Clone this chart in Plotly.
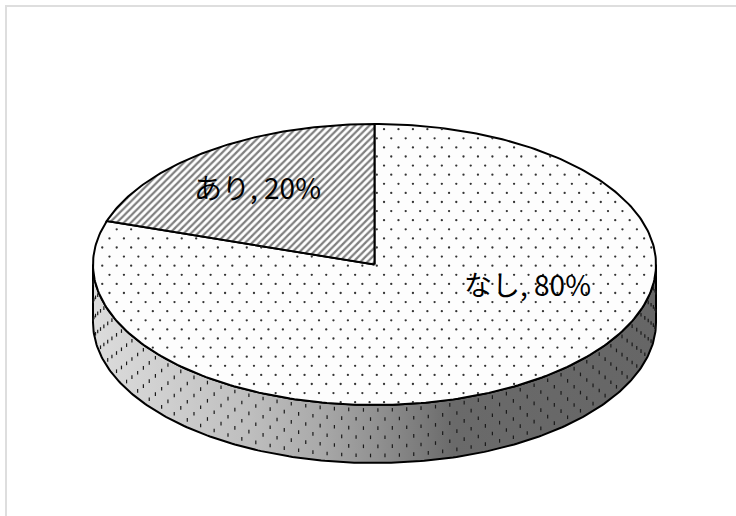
import numpy as np
import plotly.graph_objects as go

# Data
categories = ["なし", "あり"]
shares = [80, 20]
label_texts = ["なし, 80%", "あり, 20%"]

# Geometry of the drawn disc (pixel space)
CX, CY, RX, RY, DEPTH = 374.5, 264.5, 281.5, 140.5, 58
DOT_DX, DOT_DY = 14.45, 9.1
split = 2 * np.pi * shares[0] / sum(shares)


def rim(theta):
    theta = np.asarray(theta)
    return CX + RX * np.sin(theta), CY - RY * np.cos(theta)


fig = go.Figure()

# Chart frame (only top and left edges are visible in the crop)
fig.add_trace(go.Scatter(x=[6, 6, 740], y=[520, 6, 6], mode="lines",
                         line=dict(color="#dedede", width=2), hoverinfo="skip"))

# Side wall
t_side = np.linspace(np.pi / 2, 3 * np.pi / 2, 240)
xs, ys = rim(t_side)
fig.add_trace(go.Scatter(
    x=np.r_[xs, xs[::-1], xs[0]], y=np.r_[ys, ys[::-1] + DEPTH, ys[0]],
    mode="lines", fill="toself",
    fillgradient=dict(type="horizontal", colorscale=[
        [0, "#666666"], [0.36, "#6a6a6a"], [0.42, "#7c7c7c"], [0.50, "#929292"],
        [0.60, "#aaaaaa"], [0.72, "#bebebe"], [0.88, "#d0d0d0"], [1, "#dcdcdc"]],
        start=656, stop=93),
    line=dict(color="#000000", width=2), hoverinfo="skip"))

# Side wall dots follow the arc length of the rim
t_fine = np.linspace(np.pi / 2, 3 * np.pi / 2, 3000)
xf, yf = rim(t_fine)
arc = np.r_[0, np.cumsum(np.hypot(np.diff(xf), np.diff(yf)))]
side_x, side_y = [], []
for col, s in enumerate(np.arange(5, arc[-1], DOT_DX / 2)):
    i = np.searchsorted(arc, s)
    for row in range(7):
        if (row + col) % 2 == 0:
            d = 5 + row * DOT_DY
            if d < DEPTH - 2:
                side_x.append(xf[i])
                side_y.append(yf[i] + d)
fig.add_trace(go.Scatter(x=side_x, y=side_y, mode="markers",
                         marker=dict(symbol="line-ns", size=2.6,
                                     line=dict(color="#1a1a1a", width=1.2)),
                         hoverinfo="skip"))

# Top face: slices
t1 = np.linspace(0, split, 300)
x1, y1 = rim(t1)
fig.add_trace(go.Scatter(x=np.r_[CX, x1, CX], y=np.r_[CY, y1, CY], mode="lines",
                         fill="toself", fillcolor="#fdfdfd",
                         line=dict(color="#000000", width=2),
                         name=categories[0], hoverinfo="skip"))
t2 = np.linspace(split, 2 * np.pi, 100)
x2, y2 = rim(t2)
fig.add_trace(go.Scatter(x=np.r_[CX, x2, CX], y=np.r_[CY, y2, CY], mode="lines",
                         fill="toself", fillcolor="#ffffff",
                         fillpattern=dict(shape="/", size=5, solidity=0.45,
                                          fgcolor="#000000", bgcolor="#ffffff"),
                         line=dict(color="#000000", width=2),
                         name=categories[1], hoverinfo="skip"))

# Dotted texture of the large slice
dot_x, dot_y = [], []
for r in range(-20, 20):
    y = 265.7 + r * DOT_DY
    x0 = 116.7 + (DOT_DX / 2 if r % 2 else 0)
    for c in range(-10, 50):
        x = x0 + c * DOT_DX
        u, v = (x - CX) / RX, (CY - y) / RY
        if u * u + v * v < 0.985:
            if np.arctan2(u, v) % (2 * np.pi) < split - 0.02:
                dot_x.append(x)
                dot_y.append(y)
fig.add_trace(go.Scatter(x=dot_x, y=dot_y, mode="markers",
                         marker=dict(symbol="circle", size=2.3, color="#333333"),
                         hoverinfo="skip"))

# Labels
for txt, (lx, ly) in zip(label_texts, [(527, 284), (257, 187)]):
    fig.add_annotation(x=lx, y=ly, text=txt, showarrow=False,
                       font=dict(family="Noto Sans CJK JP", size=28, color="#000000"))

fig.update_layout(
    width=736, height=516, margin=dict(l=0, r=0, t=0, b=0),
    paper_bgcolor="#ffffff", plot_bgcolor="#ffffff", showlegend=False,
    xaxis=dict(range=[0, 736], visible=False, fixedrange=True),
    yaxis=dict(range=[516, 0], visible=False, fixedrange=True),
)
fig.write_html("out.html", config={"displayModeBar": False},
               post_script="document.body.style.margin='0';")
